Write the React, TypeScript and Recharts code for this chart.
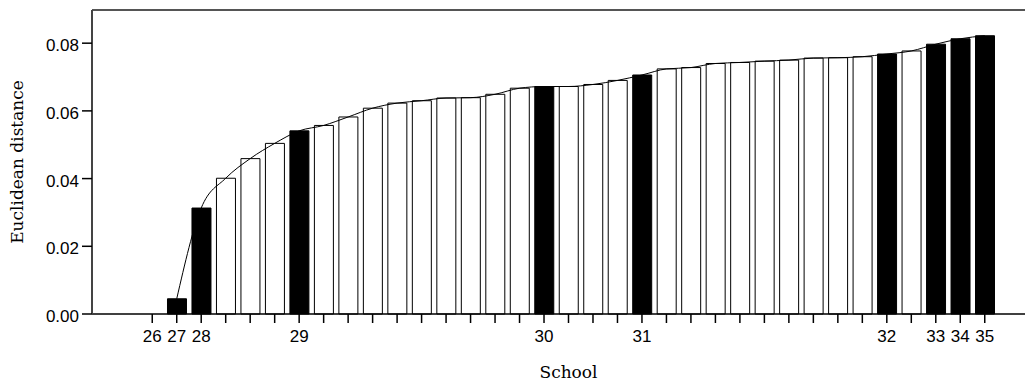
import { ComposedChart, Bar, Line, XAxis, YAxis, Cell, ReferenceLine } from "recharts";

// school labels along the x axis (blank = unlabeled school)
const SCHOOL_LABELS = [
  "26", "27", "28", "", "", "", "29", "", "", "", "", "", "", "", "", "",
  "30", "", "", "", "31", "", "", "", "", "", "", "", "", "", "32", "",
  "33", "34", "35",
];

const DISTANCES = [
  0, 0.0045, 0.0313, 0.0401, 0.0459, 0.0504, 0.0541, 0.0557, 0.0582, 0.0608,
  0.0623, 0.063, 0.0638, 0.0639, 0.0649, 0.0667, 0.0672, 0.0672, 0.0678, 0.069,
  0.0706, 0.0724, 0.0728, 0.074, 0.0743, 0.0747, 0.075, 0.0756, 0.0757, 0.076,
  0.0768, 0.0777, 0.0797, 0.0813, 0.0822,
];

const Y_TICKS = [0, 0.02, 0.04, 0.06, 0.08];
const Y_MAX = 0.0898;

const data = DISTANCES.map((v, i) => ({
  idx: i,
  dist: v,
  curve: i === 0 ? null : v,
  labeled: SCHOOL_LABELS[i] !== "",
}));

const SANS = "'Liberation Sans', Arial, sans-serif";
const SERIF = "'DejaVu Serif', serif";

function XTick({ x, y, payload }: { x?: number; y?: number; payload?: { value: number } }) {
  return (
    <text x={x} y={y} dy="0.71em" textAnchor="middle" fontFamily={SANS} fontSize={17} fill="#000">
      {SCHOOL_LABELS[payload?.value ?? 0]}
    </text>
  );
}

function YTick({ x, y, payload }: { x?: number; y?: number; payload?: { value: number } }) {
  return (
    <text x={x} y={(y ?? 0) + 2} dy="0.355em" textAnchor="end" fontFamily={SANS} fontSize={17} fill="#000">
      {(payload?.value ?? 0).toFixed(2)}
    </text>
  );
}

export default function App() {
  return (
    <div style={{ width: 1025, height: 377, background: "#fff" }}>
      <ComposedChart width={1025} height={377} data={data} margin={{ top: 2, right: 0, bottom: 0, left: 0 }}>
        <XAxis
          dataKey="idx"
          type="category"
          interval={0}
          height={71}
          padding={{ left: 48, right: 36 }}
          tick={<XTick />}
          tickSize={9}
          tickMargin={7}
          tickLine={{ stroke: "#000", strokeWidth: 1.5 }}
          axisLine={{ stroke: "#000", strokeWidth: 1.5 }}
          label={{
            value: "School",
            position: "insideBottom",
            offset: 7,
            dx: 6,
            style: { fontFamily: SERIF, fontSize: 17, fill: "#000" },
          }}
        />
        <YAxis
          type="number"
          domain={[0, Y_MAX]}
          ticks={Y_TICKS}
          width={84}
          tick={<YTick />}
          tickSize={10}
          tickMargin={3}
          tickLine={{ stroke: "#000", strokeWidth: 1.5 }}
          axisLine={{ stroke: "#444", strokeWidth: 2 }}
          label={{
            value: "Euclidean distance",
            angle: -90,
            position: "insideLeft",
            offset: 9,
            style: { textAnchor: "middle", fontFamily: SERIF, fontSize: 17, fill: "#000" },
          }}
        />
        <ReferenceLine y={Y_MAX} stroke="#555" strokeWidth={2} />
        <Bar dataKey="dist" barSize={19} stroke="#000" strokeWidth={1} isAnimationActive={false}>
          {data.map((d, i) => (
            <Cell key={i} fill={d.labeled ? "#000" : "#fff"} />
          ))}
        </Bar>
        <Line
          dataKey="curve"
          type="monotone"
          stroke="#000"
          strokeWidth={1}
          dot={false}
          activeDot={false}
          isAnimationActive={false}
        />
      </ComposedChart>
    </div>
  );
}
